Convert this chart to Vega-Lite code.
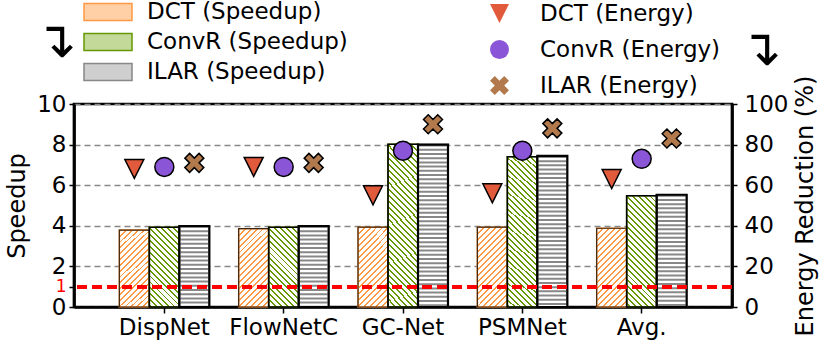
{
  "$schema": "https://vega.github.io/schema/vega-lite/v6.json",
  "width": 658,
  "height": 203,
  "autosize": {"type": "none"},
  "padding": {"left": 74, "top": 104, "right": 98, "bottom": 39},
  "background": "white",
  "config": {
    "font": "DejaVu Sans",
    "view": {"stroke": "black", "strokeWidth": 2.7},
    "axis": {"labelFont": "DejaVu Sans", "titleFont": "DejaVu Sans", "titleFontWeight": "normal", "labelColor": "black", "titleColor": "black", "domainColor": "black", "domainWidth": 2.7, "tickColor": "black", "tickWidth": 1.5, "labelFontSize": 23, "titleFontSize": 24, "labelOverlap": false, "labelFlush": false},
    "legend": {"labelFont": "DejaVu Sans", "labelColor": "black", "titleFont": "DejaVu Sans", "titleColor": "black", "titleFontWeight": "normal"}
  },
  "data": {"values": [
    {"model": "DispNet", "s": "DCT", "pt": "DCT (Energy)", "speedup": 3.79, "energy": 68},
    {"model": "DispNet", "s": "ConvR", "pt": "ConvR (Energy)", "speedup": 3.93, "energy": 69},
    {"model": "DispNet", "s": "ILAR", "pt": "ILAR (Energy)", "speedup": 3.99, "energy": 71},
    {"model": "FlowNetC", "s": "DCT", "pt": "DCT (Energy)", "speedup": 3.86, "energy": 69},
    {"model": "FlowNetC", "s": "ConvR", "pt": "ConvR (Energy)", "speedup": 3.93, "energy": 69},
    {"model": "FlowNetC", "s": "ILAR", "pt": "ILAR (Energy)", "speedup": 3.99, "energy": 71},
    {"model": "GC-Net", "s": "DCT", "pt": "DCT (Energy)", "speedup": 3.93, "energy": 55},
    {"model": "GC-Net", "s": "ConvR", "pt": "ConvR (Energy)", "speedup": 8.02, "energy": 77},
    {"model": "GC-Net", "s": "ILAR", "pt": "ILAR (Energy)", "speedup": 8.0, "energy": 90},
    {"model": "PSMNet", "s": "DCT", "pt": "DCT (Energy)", "speedup": 3.93, "energy": 56},
    {"model": "PSMNet", "s": "ConvR", "pt": "ConvR (Energy)", "speedup": 7.4, "energy": 77},
    {"model": "PSMNet", "s": "ILAR", "pt": "ILAR (Energy)", "speedup": 7.44, "energy": 88},
    {"model": "Avg.", "s": "DCT", "pt": "DCT (Energy)", "speedup": 3.88, "energy": 63},
    {"model": "Avg.", "s": "ConvR", "pt": "ConvR (Energy)", "speedup": 5.48, "energy": 73},
    {"model": "Avg.", "s": "ILAR", "pt": "ILAR (Energy)", "speedup": 5.53, "energy": 83}
  ]},
  "layer": [
    {
      "layer": [
        {
          "mark": {"type": "bar", "strokeWidth": 1.5},
          "encoding": {
            "x": {"field": "model", "type": "nominal", "title": null, "sort": ["DispNet", "FlowNetC", "GC-Net", "PSMNet", "Avg."], "scale": {"paddingInner": 0.246, "paddingOuter": 0.38}, "axis": {"labelAngle": 0, "tickSize": 6, "labelPadding": 3}},
            "xOffset": {"field": "s", "type": "nominal", "sort": ["DCT", "ConvR", "ILAR"], "scale": {"domain": ["DCT", "ConvR", "ILAR"], "paddingInner": 0, "paddingOuter": 0}},
            "y": {"field": "speedup", "type": "quantitative", "title": "Speedup", "scale": {"domain": [0, 10]}, "axis": {"values": [0, 1, 2, 4, 6, 8, 10], "tickCount": 20, "format": "d", "grid": true, "gridColor": {"condition": {"test": "datum.value === 1", "value": "transparent"}, "value": "#888888"}, "gridDash": [6, 4], "gridWidth": 1.3, "labelColor": {"condition": {"test": "datum.value === 1", "value": "red"}, "value": "black"}, "labelFontSize": {"condition": {"test": "datum.value === 1", "value": 17}, "value": 23}, "tickSize": 5, "labelPadding": 3, "titlePadding": 7, "labelFlush": false, "labelOverlap": false}},
            "stroke": {"field": "s", "type": "nominal", "scale": {"domain": ["DCT", "ConvR", "ILAR"], "range": ["#ff9944", "#669900", "#888888"]},
              "legend": {"orient": "none", "legendX": -39, "legendY": -105, "title": "↴", "titleOrient": "left", "titleAnchor": "middle", "titleFontSize": 50, "titlePadding": 18, "direction": "vertical", "padding": 0, "symbolType": "M-2,-0.7H2V0.7H-2Z", "symbolSize": 576, "symbolStrokeWidth": 1.5, "labelFontSize": 23, "labelOffset": 26, "labelLimit": 400, "rowPadding": 5, "labelExpr": "datum.label + ' (Speedup)'"}},
            "color": {
              "field": "s", "type": "nominal",
              "scale": {"domain": ["DCT", "ConvR", "ILAR"], "range": ["#ffd0a6", "#c3d999", "#cfcfcf"]},
              "condition": [
                {"test": "datum.s === 'DCT'", "value": {"gradient": "linear", "x1": 0, "y1": 0, "x2": 0.5046, "y2": 1.3204, "stops": [
                  {"offset": 0, "color": "#f94"}, {"offset": 0.016, "color": "#f94"}, {"offset": 0.016, "color": "#fff"}, {"offset": 0.05, "color": "#fff"},
                  {"offset": 0.05, "color": "#f94"}, {"offset": 0.066, "color": "#f94"}, {"offset": 0.066, "color": "#fff"}, {"offset": 0.1, "color": "#fff"},
                  {"offset": 0.1, "color": "#f94"}, {"offset": 0.116, "color": "#f94"}, {"offset": 0.116, "color": "#fff"}, {"offset": 0.15, "color": "#fff"},
                  {"offset": 0.15, "color": "#f94"}, {"offset": 0.166, "color": "#f94"}, {"offset": 0.166, "color": "#fff"}, {"offset": 0.2, "color": "#fff"},
                  {"offset": 0.2, "color": "#f94"}, {"offset": 0.216, "color": "#f94"}, {"offset": 0.216, "color": "#fff"}, {"offset": 0.25, "color": "#fff"},
                  {"offset": 0.25, "color": "#f94"}, {"offset": 0.266, "color": "#f94"}, {"offset": 0.266, "color": "#fff"}, {"offset": 0.3, "color": "#fff"},
                  {"offset": 0.3, "color": "#f94"}, {"offset": 0.316, "color": "#f94"}, {"offset": 0.316, "color": "#fff"}, {"offset": 0.35, "color": "#fff"},
                  {"offset": 0.35, "color": "#f94"}, {"offset": 0.366, "color": "#f94"}, {"offset": 0.366, "color": "#fff"}, {"offset": 0.4, "color": "#fff"},
                  {"offset": 0.4, "color": "#f94"}, {"offset": 0.416, "color": "#f94"}, {"offset": 0.416, "color": "#fff"}, {"offset": 0.45, "color": "#fff"},
                  {"offset": 0.45, "color": "#f94"}, {"offset": 0.466, "color": "#f94"}, {"offset": 0.466, "color": "#fff"}, {"offset": 0.5, "color": "#fff"},
                  {"offset": 0.5, "color": "#f94"}, {"offset": 0.516, "color": "#f94"}, {"offset": 0.516, "color": "#fff"}, {"offset": 0.55, "color": "#fff"},
                  {"offset": 0.55, "color": "#f94"}, {"offset": 0.566, "color": "#f94"}, {"offset": 0.566, "color": "#fff"}, {"offset": 0.6, "color": "#fff"},
                  {"offset": 0.6, "color": "#f94"}, {"offset": 0.616, "color": "#f94"}, {"offset": 0.616, "color": "#fff"}, {"offset": 0.65, "color": "#fff"},
                  {"offset": 0.65, "color": "#f94"}, {"offset": 0.666, "color": "#f94"}, {"offset": 0.666, "color": "#fff"}, {"offset": 0.7, "color": "#fff"},
                  {"offset": 0.7, "color": "#f94"}, {"offset": 0.716, "color": "#f94"}, {"offset": 0.716, "color": "#fff"}, {"offset": 0.75, "color": "#fff"},
                  {"offset": 0.75, "color": "#f94"}, {"offset": 0.766, "color": "#f94"}, {"offset": 0.766, "color": "#fff"}, {"offset": 0.8, "color": "#fff"},
                  {"offset": 0.8, "color": "#f94"}, {"offset": 0.816, "color": "#f94"}, {"offset": 0.816, "color": "#fff"}, {"offset": 0.85, "color": "#fff"},
                  {"offset": 0.85, "color": "#f94"}, {"offset": 0.866, "color": "#f94"}, {"offset": 0.866, "color": "#fff"}, {"offset": 0.9, "color": "#fff"},
                  {"offset": 0.9, "color": "#f94"}, {"offset": 0.916, "color": "#f94"}, {"offset": 0.916, "color": "#fff"}, {"offset": 0.95, "color": "#fff"},
                  {"offset": 0.95, "color": "#f94"}, {"offset": 0.966, "color": "#f94"}, {"offset": 0.966, "color": "#fff"}, {"offset": 1, "color": "#fff"}
                ]}},
                {"test": "datum.s === 'ConvR' && datum.speedup < 4.5", "value": {"gradient": "linear", "x1": 1, "y1": 0, "x2": 0.5096, "y2": 1.3044, "stops": [
                  {"offset": 0, "color": "#690"}, {"offset": 0.016, "color": "#690"}, {"offset": 0.016, "color": "#fff"}, {"offset": 0.05, "color": "#fff"},
                  {"offset": 0.05, "color": "#690"}, {"offset": 0.066, "color": "#690"}, {"offset": 0.066, "color": "#fff"}, {"offset": 0.1, "color": "#fff"},
                  {"offset": 0.1, "color": "#690"}, {"offset": 0.116, "color": "#690"}, {"offset": 0.116, "color": "#fff"}, {"offset": 0.15, "color": "#fff"},
                  {"offset": 0.15, "color": "#690"}, {"offset": 0.166, "color": "#690"}, {"offset": 0.166, "color": "#fff"}, {"offset": 0.2, "color": "#fff"},
                  {"offset": 0.2, "color": "#690"}, {"offset": 0.216, "color": "#690"}, {"offset": 0.216, "color": "#fff"}, {"offset": 0.25, "color": "#fff"},
                  {"offset": 0.25, "color": "#690"}, {"offset": 0.266, "color": "#690"}, {"offset": 0.266, "color": "#fff"}, {"offset": 0.3, "color": "#fff"},
                  {"offset": 0.3, "color": "#690"}, {"offset": 0.316, "color": "#690"}, {"offset": 0.316, "color": "#fff"}, {"offset": 0.35, "color": "#fff"},
                  {"offset": 0.35, "color": "#690"}, {"offset": 0.366, "color": "#690"}, {"offset": 0.366, "color": "#fff"}, {"offset": 0.4, "color": "#fff"},
                  {"offset": 0.4, "color": "#690"}, {"offset": 0.416, "color": "#690"}, {"offset": 0.416, "color": "#fff"}, {"offset": 0.45, "color": "#fff"},
                  {"offset": 0.45, "color": "#690"}, {"offset": 0.466, "color": "#690"}, {"offset": 0.466, "color": "#fff"}, {"offset": 0.5, "color": "#fff"},
                  {"offset": 0.5, "color": "#690"}, {"offset": 0.516, "color": "#690"}, {"offset": 0.516, "color": "#fff"}, {"offset": 0.55, "color": "#fff"},
                  {"offset": 0.55, "color": "#690"}, {"offset": 0.566, "color": "#690"}, {"offset": 0.566, "color": "#fff"}, {"offset": 0.6, "color": "#fff"},
                  {"offset": 0.6, "color": "#690"}, {"offset": 0.616, "color": "#690"}, {"offset": 0.616, "color": "#fff"}, {"offset": 0.65, "color": "#fff"},
                  {"offset": 0.65, "color": "#690"}, {"offset": 0.666, "color": "#690"}, {"offset": 0.666, "color": "#fff"}, {"offset": 0.7, "color": "#fff"},
                  {"offset": 0.7, "color": "#690"}, {"offset": 0.716, "color": "#690"}, {"offset": 0.716, "color": "#fff"}, {"offset": 0.75, "color": "#fff"},
                  {"offset": 0.75, "color": "#690"}, {"offset": 0.766, "color": "#690"}, {"offset": 0.766, "color": "#fff"}, {"offset": 0.8, "color": "#fff"},
                  {"offset": 0.8, "color": "#690"}, {"offset": 0.816, "color": "#690"}, {"offset": 0.816, "color": "#fff"}, {"offset": 0.85, "color": "#fff"},
                  {"offset": 0.85, "color": "#690"}, {"offset": 0.866, "color": "#690"}, {"offset": 0.866, "color": "#fff"}, {"offset": 0.9, "color": "#fff"},
                  {"offset": 0.9, "color": "#690"}, {"offset": 0.916, "color": "#690"}, {"offset": 0.916, "color": "#fff"}, {"offset": 0.95, "color": "#fff"},
                  {"offset": 0.95, "color": "#690"}, {"offset": 0.966, "color": "#690"}, {"offset": 0.966, "color": "#fff"}, {"offset": 1, "color": "#fff"}
                ]}},
                {"test": "datum.s === 'ConvR' && datum.speedup < 6.5", "value": {"gradient": "linear", "x1": 1, "y1": 0, "x2": 0.6642, "y2": 1.2448, "stops": [
                  {"offset": 0, "color": "#690"}, {"offset": 0.013, "color": "#690"}, {"offset": 0.013, "color": "#fff"}, {"offset": 0.04, "color": "#fff"},
                  {"offset": 0.04, "color": "#690"}, {"offset": 0.053, "color": "#690"}, {"offset": 0.053, "color": "#fff"}, {"offset": 0.08, "color": "#fff"},
                  {"offset": 0.08, "color": "#690"}, {"offset": 0.093, "color": "#690"}, {"offset": 0.093, "color": "#fff"}, {"offset": 0.12, "color": "#fff"},
                  {"offset": 0.12, "color": "#690"}, {"offset": 0.133, "color": "#690"}, {"offset": 0.133, "color": "#fff"}, {"offset": 0.16, "color": "#fff"},
                  {"offset": 0.16, "color": "#690"}, {"offset": 0.173, "color": "#690"}, {"offset": 0.173, "color": "#fff"}, {"offset": 0.2, "color": "#fff"},
                  {"offset": 0.2, "color": "#690"}, {"offset": 0.213, "color": "#690"}, {"offset": 0.213, "color": "#fff"}, {"offset": 0.24, "color": "#fff"},
                  {"offset": 0.24, "color": "#690"}, {"offset": 0.253, "color": "#690"}, {"offset": 0.253, "color": "#fff"}, {"offset": 0.28, "color": "#fff"},
                  {"offset": 0.28, "color": "#690"}, {"offset": 0.293, "color": "#690"}, {"offset": 0.293, "color": "#fff"}, {"offset": 0.32, "color": "#fff"},
                  {"offset": 0.32, "color": "#690"}, {"offset": 0.333, "color": "#690"}, {"offset": 0.333, "color": "#fff"}, {"offset": 0.36, "color": "#fff"},
                  {"offset": 0.36, "color": "#690"}, {"offset": 0.373, "color": "#690"}, {"offset": 0.373, "color": "#fff"}, {"offset": 0.4, "color": "#fff"},
                  {"offset": 0.4, "color": "#690"}, {"offset": 0.413, "color": "#690"}, {"offset": 0.413, "color": "#fff"}, {"offset": 0.44, "color": "#fff"},
                  {"offset": 0.44, "color": "#690"}, {"offset": 0.453, "color": "#690"}, {"offset": 0.453, "color": "#fff"}, {"offset": 0.48, "color": "#fff"},
                  {"offset": 0.48, "color": "#690"}, {"offset": 0.493, "color": "#690"}, {"offset": 0.493, "color": "#fff"}, {"offset": 0.52, "color": "#fff"},
                  {"offset": 0.52, "color": "#690"}, {"offset": 0.533, "color": "#690"}, {"offset": 0.533, "color": "#fff"}, {"offset": 0.56, "color": "#fff"},
                  {"offset": 0.56, "color": "#690"}, {"offset": 0.573, "color": "#690"}, {"offset": 0.573, "color": "#fff"}, {"offset": 0.6, "color": "#fff"},
                  {"offset": 0.6, "color": "#690"}, {"offset": 0.613, "color": "#690"}, {"offset": 0.613, "color": "#fff"}, {"offset": 0.64, "color": "#fff"},
                  {"offset": 0.64, "color": "#690"}, {"offset": 0.653, "color": "#690"}, {"offset": 0.653, "color": "#fff"}, {"offset": 0.68, "color": "#fff"},
                  {"offset": 0.68, "color": "#690"}, {"offset": 0.693, "color": "#690"}, {"offset": 0.693, "color": "#fff"}, {"offset": 0.72, "color": "#fff"},
                  {"offset": 0.72, "color": "#690"}, {"offset": 0.733, "color": "#690"}, {"offset": 0.733, "color": "#fff"}, {"offset": 0.76, "color": "#fff"},
                  {"offset": 0.76, "color": "#690"}, {"offset": 0.773, "color": "#690"}, {"offset": 0.773, "color": "#fff"}, {"offset": 0.8, "color": "#fff"},
                  {"offset": 0.8, "color": "#690"}, {"offset": 0.813, "color": "#690"}, {"offset": 0.813, "color": "#fff"}, {"offset": 0.84, "color": "#fff"},
                  {"offset": 0.84, "color": "#690"}, {"offset": 0.853, "color": "#690"}, {"offset": 0.853, "color": "#fff"}, {"offset": 0.88, "color": "#fff"},
                  {"offset": 0.88, "color": "#690"}, {"offset": 0.893, "color": "#690"}, {"offset": 0.893, "color": "#fff"}, {"offset": 0.92, "color": "#fff"},
                  {"offset": 0.92, "color": "#690"}, {"offset": 0.933, "color": "#690"}, {"offset": 0.933, "color": "#fff"}, {"offset": 0.96, "color": "#fff"},
                  {"offset": 0.96, "color": "#690"}, {"offset": 0.973, "color": "#690"}, {"offset": 0.973, "color": "#fff"}, {"offset": 1, "color": "#fff"}
                ]}},
                {"test": "datum.s === 'ConvR'", "value": {"gradient": "linear", "x1": 1, "y1": 0, "x2": 0.7675, "y2": 1.2168, "stops": [
                  {"offset": 0, "color": "#690"}, {"offset": 0.01, "color": "#690"}, {"offset": 0.01, "color": "#fff"}, {"offset": 0.03, "color": "#fff"},
                  {"offset": 0.03, "color": "#690"}, {"offset": 0.04, "color": "#690"}, {"offset": 0.04, "color": "#fff"}, {"offset": 0.06, "color": "#fff"},
                  {"offset": 0.06, "color": "#690"}, {"offset": 0.07, "color": "#690"}, {"offset": 0.07, "color": "#fff"}, {"offset": 0.09, "color": "#fff"},
                  {"offset": 0.09, "color": "#690"}, {"offset": 0.1, "color": "#690"}, {"offset": 0.1, "color": "#fff"}, {"offset": 0.12, "color": "#fff"},
                  {"offset": 0.12, "color": "#690"}, {"offset": 0.13, "color": "#690"}, {"offset": 0.13, "color": "#fff"}, {"offset": 0.15, "color": "#fff"},
                  {"offset": 0.15, "color": "#690"}, {"offset": 0.16, "color": "#690"}, {"offset": 0.16, "color": "#fff"}, {"offset": 0.18, "color": "#fff"},
                  {"offset": 0.18, "color": "#690"}, {"offset": 0.19, "color": "#690"}, {"offset": 0.19, "color": "#fff"}, {"offset": 0.21, "color": "#fff"},
                  {"offset": 0.21, "color": "#690"}, {"offset": 0.22, "color": "#690"}, {"offset": 0.22, "color": "#fff"}, {"offset": 0.24, "color": "#fff"},
                  {"offset": 0.24, "color": "#690"}, {"offset": 0.25, "color": "#690"}, {"offset": 0.25, "color": "#fff"}, {"offset": 0.27, "color": "#fff"},
                  {"offset": 0.27, "color": "#690"}, {"offset": 0.28, "color": "#690"}, {"offset": 0.28, "color": "#fff"}, {"offset": 0.3, "color": "#fff"},
                  {"offset": 0.3, "color": "#690"}, {"offset": 0.31, "color": "#690"}, {"offset": 0.31, "color": "#fff"}, {"offset": 0.33, "color": "#fff"},
                  {"offset": 0.33, "color": "#690"}, {"offset": 0.34, "color": "#690"}, {"offset": 0.34, "color": "#fff"}, {"offset": 0.36, "color": "#fff"},
                  {"offset": 0.36, "color": "#690"}, {"offset": 0.37, "color": "#690"}, {"offset": 0.37, "color": "#fff"}, {"offset": 0.39, "color": "#fff"},
                  {"offset": 0.39, "color": "#690"}, {"offset": 0.4, "color": "#690"}, {"offset": 0.4, "color": "#fff"}, {"offset": 0.42, "color": "#fff"},
                  {"offset": 0.42, "color": "#690"}, {"offset": 0.43, "color": "#690"}, {"offset": 0.43, "color": "#fff"}, {"offset": 0.45, "color": "#fff"},
                  {"offset": 0.45, "color": "#690"}, {"offset": 0.46, "color": "#690"}, {"offset": 0.46, "color": "#fff"}, {"offset": 0.48, "color": "#fff"},
                  {"offset": 0.48, "color": "#690"}, {"offset": 0.49, "color": "#690"}, {"offset": 0.49, "color": "#fff"}, {"offset": 0.51, "color": "#fff"},
                  {"offset": 0.51, "color": "#690"}, {"offset": 0.52, "color": "#690"}, {"offset": 0.52, "color": "#fff"}, {"offset": 0.54, "color": "#fff"},
                  {"offset": 0.54, "color": "#690"}, {"offset": 0.55, "color": "#690"}, {"offset": 0.55, "color": "#fff"}, {"offset": 0.57, "color": "#fff"},
                  {"offset": 0.57, "color": "#690"}, {"offset": 0.58, "color": "#690"}, {"offset": 0.58, "color": "#fff"}, {"offset": 0.6, "color": "#fff"},
                  {"offset": 0.6, "color": "#690"}, {"offset": 0.61, "color": "#690"}, {"offset": 0.61, "color": "#fff"}, {"offset": 0.63, "color": "#fff"},
                  {"offset": 0.63, "color": "#690"}, {"offset": 0.64, "color": "#690"}, {"offset": 0.64, "color": "#fff"}, {"offset": 0.66, "color": "#fff"},
                  {"offset": 0.66, "color": "#690"}, {"offset": 0.67, "color": "#690"}, {"offset": 0.67, "color": "#fff"}, {"offset": 0.69, "color": "#fff"},
                  {"offset": 0.69, "color": "#690"}, {"offset": 0.7, "color": "#690"}, {"offset": 0.7, "color": "#fff"}, {"offset": 0.72, "color": "#fff"},
                  {"offset": 0.72, "color": "#690"}, {"offset": 0.73, "color": "#690"}, {"offset": 0.73, "color": "#fff"}, {"offset": 0.75, "color": "#fff"},
                  {"offset": 0.75, "color": "#690"}, {"offset": 0.76, "color": "#690"}, {"offset": 0.76, "color": "#fff"}, {"offset": 0.78, "color": "#fff"},
                  {"offset": 0.78, "color": "#690"}, {"offset": 0.79, "color": "#690"}, {"offset": 0.79, "color": "#fff"}, {"offset": 0.81, "color": "#fff"},
                  {"offset": 0.81, "color": "#690"}, {"offset": 0.82, "color": "#690"}, {"offset": 0.82, "color": "#fff"}, {"offset": 0.84, "color": "#fff"},
                  {"offset": 0.84, "color": "#690"}, {"offset": 0.85, "color": "#690"}, {"offset": 0.85, "color": "#fff"}, {"offset": 0.87, "color": "#fff"},
                  {"offset": 0.87, "color": "#690"}, {"offset": 0.88, "color": "#690"}, {"offset": 0.88, "color": "#fff"}, {"offset": 0.9, "color": "#fff"},
                  {"offset": 0.9, "color": "#690"}, {"offset": 0.91, "color": "#690"}, {"offset": 0.91, "color": "#fff"}, {"offset": 0.93, "color": "#fff"},
                  {"offset": 0.93, "color": "#690"}, {"offset": 0.94, "color": "#690"}, {"offset": 0.94, "color": "#fff"}, {"offset": 0.96, "color": "#fff"},
                  {"offset": 0.96, "color": "#690"}, {"offset": 0.97, "color": "#690"}, {"offset": 0.97, "color": "#fff"}, {"offset": 0.99, "color": "#fff"},
                  {"offset": 0.99, "color": "#690"}, {"offset": 1, "color": "#690"}
                ]}},
                {"test": "datum.s === 'ILAR'", "value": "#ffffff"}
              ],
              "legend": {"orient": "none", "legendX": -39, "legendY": -105, "title": "↴", "titleOrient": "left", "titleAnchor": "middle", "titleFontSize": 50, "titlePadding": 18, "direction": "vertical", "padding": 0, "symbolType": "M-2,-0.7H2V0.7H-2Z", "symbolSize": 576, "symbolStrokeWidth": 1.5, "labelFontSize": 23, "labelOffset": 26, "labelLimit": 400, "rowPadding": 5, "labelExpr": "datum.label + ' (Speedup)'"}
            }
          }
        },
        {
          "transform": [{"filter": "datum.s === 'ILAR'"}],
          "mark": {"type": "rule", "strokeWidth": 28, "strokeDash": [2, 2.2], "color": "#888888", "strokeCap": "butt"},
          "encoding": {
            "x": {"field": "model", "type": "nominal", "title": null, "sort": ["DispNet", "FlowNetC", "GC-Net", "PSMNet", "Avg."]},
            "xOffset": {"field": "s", "type": "nominal", "sort": ["DCT", "ConvR", "ILAR"]},
            "y": {"field": "speedup", "type": "quantitative", "title": "Speedup"},
            "y2": {"datum": 0}
          }
        },
        {
          "mark": {"type": "bar", "fillOpacity": 0},
          "encoding": {
            "x": {"field": "model", "type": "nominal", "title": null, "sort": ["DispNet", "FlowNetC", "GC-Net", "PSMNet", "Avg."]},
            "xOffset": {"field": "s", "type": "nominal", "sort": ["DCT", "ConvR", "ILAR"]},
            "y": {"field": "speedup", "type": "quantitative", "title": "Speedup"},
            "stroke": {"condition": {"test": "datum.s === 'DCT'", "value": "#3a2510"}, "value": "black"},
            "strokeWidth": {"condition": [{"test": "datum.s === 'DCT'", "value": 1.2}, {"test": "datum.s === 'ConvR'", "value": 1.6}], "value": 2.2}
          }
        },
        {
          "mark": {"type": "rule", "color": "red", "strokeWidth": 3, "strokeDash": [10, 5]},
          "encoding": {"y": {"datum": 1, "type": "quantitative", "title": "Speedup"}}
        }
      ]
    },
    {
      "mark": {"type": "point", "filled": true, "size": 360, "stroke": "black", "strokeWidth": 1.5, "opacity": 1},
      "encoding": {
        "x": {"field": "model", "type": "nominal", "title": null, "sort": ["DispNet", "FlowNetC", "GC-Net", "PSMNet", "Avg."]},
        "xOffset": {"field": "s", "type": "nominal", "sort": ["DCT", "ConvR", "ILAR"]},
        "y": {"field": "energy", "type": "quantitative", "title": "Energy Reduction (%)", "scale": {"domain": [0, 100]}, "axis": {"orient": "right", "values": [0, 20, 40, 60, 80, 100], "tickCount": 20, "format": "d", "grid": false, "tickSize": 5, "labelPadding": 7, "titlePadding": 30, "titleAngle": 270, "labelFlush": false, "labelOverlap": false}},
        "shape": {"field": "pt", "type": "nominal", "scale": {"domain": ["DCT (Energy)", "ConvR (Energy)", "ILAR (Energy)"], "range": ["M-1,-1L1,-1L0,1Z", "circle", "M-0.5,-1L0,-0.5L0.5,-1L1,-0.5L0.5,0L1,0.5L0.5,1L0,0.5L-0.5,1L-1,0.5L-0.5,0L-1,-0.5Z"]},
          "legend": {"orient": "none", "legendX": 414, "legendY": -102, "title": "↴", "titleOrient": "right", "titleAnchor": "middle", "titleFontSize": 50, "titlePadding": 20, "padding": 0, "symbolSize": 360, "symbolStrokeColor": "black", "symbolStrokeWidth": 1.5, "labelFontSize": 23, "labelOffset": 29, "labelLimit": 400, "rowPadding": 11}},
        "fill": {"field": "pt", "type": "nominal", "scale": {"domain": ["DCT (Energy)", "ConvR (Energy)", "ILAR (Energy)"], "range": ["#e05a3b", "#8a55d6", "#b27a4c"]},
          "legend": {"orient": "none", "legendX": 414, "legendY": -102, "title": "↴", "titleOrient": "right", "titleAnchor": "middle", "titleFontSize": 50, "titlePadding": 20, "padding": 0, "symbolSize": 360, "symbolStrokeColor": "black", "symbolStrokeWidth": 1.5, "labelFontSize": 23, "labelOffset": 29, "labelLimit": 400, "rowPadding": 11}}
      }
    }
  ],
  "resolve": {"scale": {"y": "independent"}}
}
